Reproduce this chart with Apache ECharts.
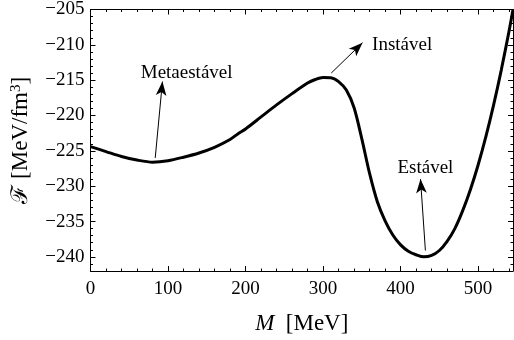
<!DOCTYPE html>
<html>
<head>
<meta charset="utf-8">
<script src="https://cdn.jsdelivr.net/npm/echarts@6/dist/echarts.min.js"></script>
<style>
  html, body { margin: 0; padding: 0; background: #fff; }
  #chart { width: 514px; height: 340px; }
</style>
</head>
<body>
<div id="chart"></div>
<script>
// Free energy density F(M) versus constituent mass M
const massMeV = [0, 20, 40, 60, 80, 100, 120, 140, 160, 180, 190, 200, 220, 240, 260, 280, 290, 300, 310, 320, 330, 340, 350, 360, 370, 380, 390, 400, 410, 420, 430, 440, 450, 460, 470, 480, 490, 500, 510, 520, 530, 540, 545];
const freeEnergy = [-224.4, -225.1, -225.8, -226.3, -226.6, -226.4, -225.9, -225.3, -224.5, -223.4, -222.6, -221.9, -220.2, -218.5, -216.9, -215.4, -214.9, -214.62, -214.65, -215.2, -216.4, -218.9, -223.3, -228.2, -232.2, -234.9, -236.9, -238.3, -239.2, -239.7, -240.0, -239.8, -239.1, -237.8, -236.0, -233.5, -230.5, -227.0, -223.0, -218.5, -213.5, -208.0, -205.0];

// Axis ticks
const xMajorTicks = [0, 100, 200, 300, 400, 500];
const xMinorTicks = [20, 40, 60, 80, 120, 140, 160, 180, 220, 240, 260, 280, 320, 340, 360, 380, 420, 440, 460, 480, 520, 540];
const yMajorTicks = [-240, -235, -230, -225, -220, -215, -210, -205];
const yMinorTicks = [-242, -241, -239, -238, -237, -236, -234, -233, -232, -231, -229, -228, -227, -226, -224, -223, -222, -221, -219, -218, -217, -216, -214, -213, -212, -211, -209, -208, -207, -206];

// Annotated states: label position, arrow tail and arrow head (data units)
const stateLabels = ['Metaestável', 'Instável', 'Estável'];
const labelAt = [[124, -214.0], [402, -210.0], [432, -227.4]];
const arrowFrom = [[83.5, -226.0], [310.5, -214.0], [432, -239.1]];
const arrowTo = [[92.8, -215.2], [350.9, -209.7], [425.7, -229.0]];

const SERIF = "'Liberation Serif', 'DejaVu Serif', serif";
const minusSign = v => String(v).replace('-', '\u2212');

function frameAxis(kind, position, ticks, len, withLine, withLabels, min, max) {
  const ax = {
    type: 'value', position: position, min: min, max: max,
    axisLine: { show: withLine, onZero: false, lineStyle: { color: '#000', width: 1 } },
    axisTick: { show: true, inside: true, length: len, customValues: ticks, lineStyle: { color: '#000', width: 1 } },
    axisLabel: { show: false },
    splitLine: { show: false }
  };
  if (withLabels) {
    ax.axisLabel = {
      show: true, customValues: ticks, formatter: minusSign,
      color: '#000', fontFamily: SERIF, fontSize: 19,
      margin: kind === 'x' ? 9 : 6
    };
  }
  return ax;
}

const xAxes = [
  frameAxis('x', 'bottom', xMajorTicks, 5, true, true, 0, 545),
  frameAxis('x', 'bottom', xMinorTicks, 2.5, false, false, 0, 545),
  frameAxis('x', 'top', xMajorTicks, 5, true, false, 0, 545),
  frameAxis('x', 'top', xMinorTicks, 2.5, false, false, 0, 545)
];
xAxes[0].name = '{i|M}  [MeV]';
xAxes[0].nameLocation = 'middle';
xAxes[0].nameGap = 41;
xAxes[0].nameTextStyle = {
  color: '#000', fontFamily: SERIF, fontSize: 23,
  rich: { i: { fontStyle: 'italic', fontFamily: SERIF, fontSize: 23, color: '#000' } }
};

const yAxes = [
  frameAxis('y', 'left', yMajorTicks, 5, true, true, -242, -205),
  frameAxis('y', 'left', yMinorTicks, 2.5, false, false, -242, -205),
  frameAxis('y', 'right', yMajorTicks, 5, true, false, -242, -205),
  frameAxis('y', 'right', yMinorTicks, 2.5, false, false, -242, -205)
];
yAxes[0].name = '{f|\u2131} [MeV/fm{s|3}]';
yAxes[0].nameLocation = 'middle';
yAxes[0].nameRotate = 90;
yAxes[0].nameGap = 52;
yAxes[0].nameTextStyle = {
  color: '#000', fontFamily: SERIF, fontSize: 23, lineHeight: 26,
  rich: {
    f: { fontFamily: SERIF, fontSize: 23, lineHeight: 26, color: '#000' },
    s: { fontFamily: SERIF, fontSize: 15, lineHeight: 15, verticalAlign: 'top', color: '#000' }
  }
};

const chart = echarts.init(document.getElementById('chart'), null, { renderer: 'canvas' });
chart.setOption({
  animation: false,
  backgroundColor: '#fff',
  grid: { left: 90.5, right: 1, top: 9.4, bottom: 68, containLabel: false },
  xAxis: xAxes,
  yAxis: yAxes,
  series: [
    {
      name: 'F',
      type: 'line',
      xAxisIndex: 0, yAxisIndex: 0,
      data: massMeV.map((m, i) => [m, freeEnergy[i]]),
      smooth: 0.3,
      showSymbol: false,
      clip: true,
      lineStyle: { color: '#000', width: 3 }
    },
    {
      name: 'states',
      type: 'scatter',
      xAxisIndex: 0, yAxisIndex: 0,
      symbolSize: 0,
      itemStyle: { opacity: 1, color: '#000' },
      data: stateLabels.map((t, i) => ({ name: t, value: labelAt[i] })),
      label: {
        show: true, position: 'inside', formatter: '{b}',
        color: '#000', fontFamily: SERIF, fontSize: 19
      },
      silent: true
    },
    {
      name: 'arrows',
      type: 'line',
      xAxisIndex: 0, yAxisIndex: 0,
      data: [],
      silent: true,
      markLine: {
        silent: true,
        animation: false,
        label: { show: false },
        lineStyle: { color: '#000', width: 1, type: 'solid' },
        data: stateLabels.map((t, i) => [
          { coord: arrowFrom[i], symbol: 'none', symbolSize: 1 },
          { coord: arrowTo[i], symbol: 'arrow', symbolSize: [8, 14] }
        ])
      }
    }
  ]
});
</script>
</body>
</html>
